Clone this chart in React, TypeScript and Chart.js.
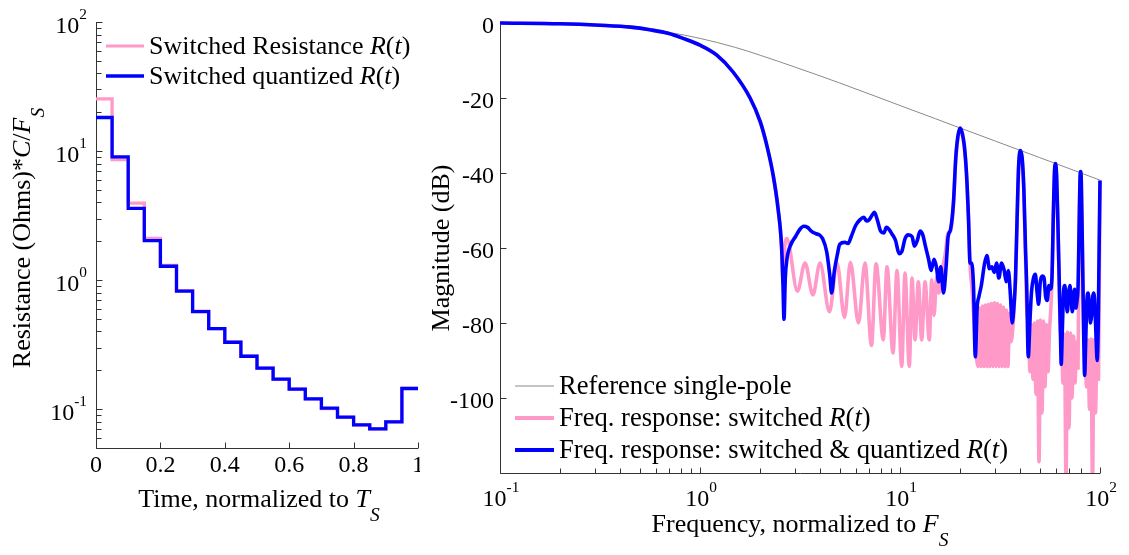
import React, { useEffect, useRef } from "react";
import { Chart, registerables } from "chart.js";

Chart.register(...registerables);

// ---------------- Left panel data ----------------
const timeEdges = [0, 0.05, 0.1, 0.15, 0.2, 0.25, 0.3, 0.35, 0.4, 0.45, 0.5, 0.55, 0.6, 0.65, 0.7, 0.75, 0.8, 0.85, 0.9, 0.95, 1];
const switchedResistance = [25.4, 8.6, 3.95, 2.1, 1.3, 0.83, 0.575, 0.42, 0.33, 0.257, 0.208, 0.17, 0.143, 0.12, 0.101, 0.0865, 0.0755, 0.0703, 0.08, 0.145];
const quantizedResistance = [18.2, 9.0, 3.6, 2.02, 1.28, 0.82, 0.57, 0.42, 0.33, 0.257, 0.208, 0.171, 0.143, 0.12, 0.102, 0.0867, 0.0756, 0.0704, 0.0797, 0.1445];
const timeTicks = [0, 0.2, 0.4, 0.6, 0.8, 1];
const timeTickLabels = ["0", "0.2", "0.4", "0.6", "0.8", "1"];
const resistanceTicks = [0.1, 1, 10, 100];
const resistanceTickExps = ["-1", "0", "1", "2"];

// ---------------- Right panel data ----------------
const freqTicks = [0.1, 1, 10, 100];
const freqTickExps = ["-1", "0", "1", "2"];
const magTicks = [0, -20, -40, -60, -80, -100];
const magTickLabels = ["0", "-20", "-40", "-60", "-80", "-100"];

const refFreq = [0.1, 0.2, 0.3, 0.5, 0.7, 1, 1.5, 2, 3, 5, 7, 10, 15, 20, 30, 50, 70, 100];
const refDb = [-0.1, -0.3, -0.6, -1.4, -2.5, -4.1, -6.5, -8.6, -11.8, -16, -18.9, -22, -25.5, -28, -31.5, -35.9, -38.8, -41.9];

// common low-frequency roll-off (both responses coincide here)
const rolloffFreq = [0.1, 0.2, 0.316, 0.45, 0.562, 0.7, 0.822, 1.0, 1.21, 1.46, 1.78, 2.0, 2.155, 2.32, 2.455, 2.56];
const rolloffDb = [0, -0.2, -0.6, -1.1, -1.8, -2.8, -4.1, -5.9, -8.5, -13, -20, -26.3, -32.5, -40.5, -49.4, -60];

const quantFreq = [
  2.6, 2.63, 2.67, 2.72, 2.85, 3.0, 3.16, 3.3, 3.45, 3.6,
  3.8, 3.95, 4.1, 4.3, 4.45, 4.55, 4.7, 4.85, 5.0, 5.3,
  5.5, 5.7, 6.0, 6.3, 6.6, 6.8, 7.0, 7.3, 7.45, 7.7,
  8.0, 8.3, 8.55, 8.8, 9.1, 9.5, 9.9, 10.2, 10.6, 11.0,
  11.5, 11.8, 12.2, 12.6, 13.0, 13.4, 13.9, 14.3, 14.8, 15.2,
  15.6, 16.0, 16.5, 17.0, 17.4, 17.9, 18.5, 19.0, 19.5, 20.0,
  20.5, 21.0, 21.5, 22.0, 22.4, 22.8, 23.3, 23.8, 24.3, 24.8,
  25.5, 26.5, 27.2, 28.0, 28.8, 29.6, 30.4, 31.2, 32.2, 33.2,
  34.0, 34.8, 35.6, 36.4, 37.2, 37.8, 38.5, 39.2, 40.0, 40.8,
  41.6, 42.4, 43.0, 43.8, 44.6, 45.4, 46.5, 47.5, 48.5, 49.3,
  50.3, 51.5, 52.5, 53.5, 54.5, 55.5, 56.5, 57.5, 58.5, 59.3,
  60.0, 60.7, 61.5, 62.5, 63.5, 64.0, 64.8, 65.7, 66.7, 67.7,
  68.7, 69.7, 70.7, 71.7, 72.7, 73.7, 74.7, 75.7, 76.7, 77.7,
  78.6, 79.4, 80.0, 80.6, 81.4, 82.2, 83.0, 83.8, 84.8, 86.0,
  87.2, 88.4, 89.6, 90.8, 92.0, 93.2, 94.4, 95.6, 96.8, 98.0,
  99.0, 100,
];
const quantDb = [
  -70, -79, -68, -63, -59, -57, -55, -54.2, -54.5, -55.5,
  -56.2, -56.5, -57.5, -61, -67, -72, -66, -62, -59, -58.5,
  -58.8, -57, -54, -52.5, -51.8, -52.8, -52.5, -51, -50.5, -52.5,
  -55.5, -56, -54.5, -55, -56.2, -58, -61.5, -61, -57.5, -56.5,
  -57, -59.5, -58, -55.5, -56.5, -59.5, -63, -66, -63, -65,
  -69, -65, -72, -65, -57, -55, -48, -36, -30, -28,
  -29.5, -33, -40, -52, -64, -64, -70, -89, -76, -73,
  -70, -64, -62, -65.5, -65, -66.5, -64, -68, -64, -66,
  -69, -66, -72, -80, -75, -68, -52, -38, -34, -36,
  -44, -60, -70, -89, -80, -72, -68, -67, -72, -75,
  -69, -67.5, -68, -73, -74, -70, -71, -68, -50, -39,
  -37.5, -41, -52, -68, -84, -91, -82, -72, -70, -74,
  -77, -72, -70, -73, -77, -74, -71, -76, -74, -70,
  -55, -42, -39.6, -42, -55, -70, -85, -94, -85, -74,
  -72, -75, -80, -78, -73, -72, -76, -84, -90, -80,
  -60, -42,
];

const switchedFreq = [
  2.6, 2.65, 2.72,
  3.07, 3.35, 3.67, 3.98, 4.44, 4.84, 5.28, 5.65, 6.20, 6.68,
  7.20, 7.59, 8.25, 8.61, 9.23, 9.66, 10.2, 10.59, 11.13, 11.48,
  11.89, 12.35, 12.84, 13.34, 14.01, 14.41, 14.79, 15.26, 15.67, 16.22,
  16.79, 17.38, 17.9, 18.5, 19.0, 19.5, 20.0, 20.5, 21.0, 21.5,
  22.0, 22.4, 23.0, 23.8, 24.55, 24.97, 25.41, 25.85, 26.30, 26.76,
  27.23, 27.70, 28.18, 28.68, 29.17, 29.68, 30.20, 30.73, 31.26, 31.81,
  32.36, 32.92, 33.50, 34.08, 34.67, 35.28, 36.0, 37.2, 37.8, 38.5,
  39.2, 40.0, 40.8, 41.6, 42.4, 43.0, 43.90, 44.67, 45.45, 46.24,
  47.04, 47.86, 48.70, 49.55, 50.41, 51.29, 52.18, 53.09, 54.01, 54.95,
  55.91, 56.8, 57.5, 58.5, 59.3, 60.0, 60.7, 61.5, 62.5, 63.3,
  64.19, 65.31, 66.45, 67.61, 68.79, 69.98, 71.21, 72.44, 73.70, 74.99,
  76.30, 77.62, 78.6, 79.4, 80.0, 80.6, 81.4, 82.2, 83.2, 84.14,
  85.60, 87.10, 88.62, 90.16, 91.73, 93.33, 94.97, 96.61, 98.29, 99.2,
  100,
];
const switchedDb = [
  -69, -60, -57.5,
  -71.5, -64, -72.5, -64, -77, -64, -78.5, -63.8, -80, -64,
  -86, -64.2, -84.5, -65, -88, -66, -91.6, -66.7, -91.6, -68,
  -84.5, -69, -84.5, -69, -84.5, -68.5, -78, -67.6, -72, -66,
  -62, -56, -55.5, -48.5, -36.5, -30.5, -28.3, -29.8, -33.5, -40.5,
  -52, -64.5, -72, -85, -91.6, -76, -91.6, -75.5, -91.6, -75.2,
  -91.6, -75, -91.6, -74.8, -91.6, -74.6, -91.6, -74.8, -91.6, -75.2,
  -91.6, -75.8, -91.6, -76.6, -91.6, -77.5, -85, -76, -69, -53,
  -38.5, -34.3, -36.5, -45, -62, -76, -81, -93, -80.5, -95,
  -80, -99, -79.5, -117, -79.2, -104, -79.5, -97, -80.5, -93,
  -82, -76, -69, -51, -39.5, -37.8, -41.5, -53, -70, -82,
  -84, -96, -83, -122, -82.5, -108, -82.7, -100, -83.5, -96,
  -85, -92, -56, -42.5, -39.9, -42.5, -56, -72, -84, -85,
  -97, -84.5, -103, -84.3, -123, -84.5, -104, -85, -95, -70,
  -42,
];

// ---------------- styling ----------------
const SERIF = '"Liberation Serif", "Times New Roman", serif';
const AXIS = "#333333";
const PINK = "#ff99c8";
const BLUE = "#0000ff";
const GREY = "#8a8a8a";
const TICK_FS = 24;
const LABEL_FS = 26;
const RLEG_FS = 26.6;

type Run = { t: string; it?: boolean; sub?: boolean; sup?: boolean };

function runFont(r: Run, size: number) {
  const s = r.sub ? size * 0.75 : r.sup ? size * 0.64 : size;
  return `${r.it ? "italic " : ""}${s}px ${SERIF}`;
}
function runsWidth(ctx: CanvasRenderingContext2D, runs: Run[], size: number) {
  let w = 0;
  for (const r of runs) {
    ctx.font = runFont(r, size);
    w += ctx.measureText(r.t).width;
  }
  return w;
}
function drawRuns(ctx: CanvasRenderingContext2D, runs: Run[], x: number, y: number, size: number, align: string) {
  const w = runsWidth(ctx, runs, size);
  let cx = align === "left" ? x : align === "center" ? x - w / 2 : x - w;
  ctx.textAlign = "left";
  ctx.textBaseline = "middle";
  ctx.fillStyle = "#000";
  for (const r of runs) {
    ctx.font = runFont(r, size);
    const dy = r.sub ? size * 0.6 : r.sup ? -size * 0.5 : 0;
    ctx.fillText(r.t, cx, y + dy);
    cx += ctx.measureText(r.t).width;
  }
}
function drawRotated(ctx: CanvasRenderingContext2D, runs: Run[], x: number, y: number, size: number) {
  ctx.save();
  ctx.translate(x, y);
  ctx.rotate(-Math.PI / 2);
  drawRuns(ctx, runs, 0, 0, size, "center");
  ctx.restore();
}
function legendRow(ctx: CanvasRenderingContext2D, x0: number, x1: number, y: number, color: string, width: number, runs: Run[], size: number) {
  ctx.save();
  ctx.strokeStyle = color;
  ctx.lineWidth = width;
  ctx.beginPath();
  ctx.moveTo(x0, y);
  ctx.lineTo(x1, y);
  ctx.stroke();
  ctx.restore();
  drawRuns(ctx, runs, x1 + 5, y + 1, size, "left");
}

const leftDecor = {
  id: "leftDecor",
  beforeDatasetsDraw(chart: any) {
    const { ctx, chartArea: ca, scales } = chart;
    const xs = scales.x;
    const ys = scales.y;
    ctx.save();
    ctx.strokeStyle = AXIS;
    ctx.lineWidth = 1;
    const L = Math.floor(ca.left) + 0.5;
    const B = Math.floor(ca.bottom) + 0.5;
    ctx.beginPath();
    ctx.moveTo(L, ca.top);
    ctx.lineTo(L, B);
    ctx.lineTo(ca.right, B);
    for (const t of timeTicks) {
      const px = Math.round(xs.getPixelForValue(t)) + 0.5;
      ctx.moveTo(px, B);
      ctx.lineTo(px, B - 6);
    }
    for (let e = -2; e <= 2; e++) {
      for (let k = 1; k <= 9; k++) {
        const v = k * Math.pow(10, e);
        if (v < ys.min * 0.999 || v > ys.max * 1.001) continue;
        const py = Math.round(ys.getPixelForValue(v)) + 0.5;
        ctx.moveTo(L, py);
        ctx.lineTo(L + (k === 1 ? 6 : 5), py);
      }
    }
    ctx.stroke();
    ctx.restore();
  },
  afterDraw(chart: any) {
    const { ctx, chartArea: ca, scales } = chart;
    const xs = scales.x;
    const ys = scales.y;
    timeTicks.forEach((t, i) => {
      drawRuns(ctx, [{ t: timeTickLabels[i] }], xs.getPixelForValue(t), ca.bottom + 18, TICK_FS, "center");
    });
    resistanceTicks.forEach((v, i) => {
      drawRuns(ctx, [{ t: "10" }, { t: resistanceTickExps[i], sup: true }], ca.left - 9, ys.getPixelForValue(v) + 5, TICK_FS, "right");
    });
    drawRuns(ctx, [{ t: "Time, normalized to " }, { t: "T", it: true }, { t: "S", it: true, sub: true }], (ca.left + ca.right) / 2 + 2, ca.bottom + 52, LABEL_FS, "center");
    drawRotated(ctx, [{ t: "Resistance (Ohms)*" }, { t: "C", it: true }, { t: "/" }, { t: "F", it: true }, { t: "S", it: true, sub: true }], ca.left - 73, 238, LABEL_FS);
    legendRow(ctx, ca.left + 10, ca.left + 48, 46, PINK, 3, [{ t: "Switched Resistance " }, { t: "R", it: true }, { t: "(" }, { t: "t", it: true }, { t: ")" }], LABEL_FS);
    legendRow(ctx, ca.left + 10, ca.left + 48, 76, BLUE, 3.5, [{ t: "Switched quantized " }, { t: "R", it: true }, { t: "(" }, { t: "t", it: true }, { t: ")" }], LABEL_FS);
  },
};

const rightDecor = {
  id: "rightDecor",
  beforeDatasetsDraw(chart: any) {
    const { ctx, chartArea: ca, scales } = chart;
    const xs = scales.x;
    const ys = scales.y;
    ctx.save();
    ctx.strokeStyle = AXIS;
    ctx.lineWidth = 1;
    const L = Math.floor(ca.left) + 0.5;
    const B = Math.floor(ca.bottom) + 0.5;
    ctx.beginPath();
    ctx.moveTo(L, ca.top);
    ctx.lineTo(L, B);
    ctx.lineTo(ca.right, B);
    for (let e = -1; e <= 2; e++) {
      for (let k = 1; k <= 9; k++) {
        const v = k * Math.pow(10, e);
        if (v > 100.01) continue;
        const px = Math.round(xs.getPixelForValue(v)) + 0.5;
        ctx.moveTo(px, B);
        ctx.lineTo(px, B - (k === 1 ? 6 : 5));
      }
    }
    for (const m of magTicks) {
      const py = Math.round(ys.getPixelForValue(m)) + 0.5;
      ctx.moveTo(L, py);
      ctx.lineTo(L + 6, py);
    }
    ctx.stroke();
    ctx.restore();
  },
  afterDraw(chart: any) {
    const { ctx, chartArea: ca, scales } = chart;
    const xs = scales.x;
    const ys = scales.y;
    magTicks.forEach((m, i) => {
      drawRuns(ctx, [{ t: magTickLabels[i] }], ca.left - 6, ys.getPixelForValue(m) + 4, TICK_FS, "right");
    });
    freqTicks.forEach((f, i) => {
      drawRuns(ctx, [{ t: "10" }, { t: freqTickExps[i], sup: true }], xs.getPixelForValue(f) + 1, ca.bottom + 27, TICK_FS, "center");
    });
    drawRuns(ctx, [{ t: "Frequency, normalized to " }, { t: "F", it: true }, { t: "S", it: true, sub: true }], (ca.left + ca.right) / 2, ca.bottom + 52, LABEL_FS, "center");
    drawRotated(ctx, [{ t: "Magnitude (dB)" }], ca.left - 58, (ca.top + ca.bottom) / 2, LABEL_FS);
    const x0 = ca.left + 15;
    const x1 = ca.left + 54;
    legendRow(ctx, x0, x1, 386, GREY, 1, [{ t: "Reference single-pole" }], RLEG_FS);
    legendRow(ctx, x0, x1, 418, PINK, 3.8, [{ t: "Freq. response: switched " }, { t: "R", it: true }, { t: "(" }, { t: "t", it: true }, { t: ")" }], RLEG_FS);
    legendRow(ctx, x0, x1, 450, BLUE, 3.8, [{ t: "Freq. response: switched & quantized " }, { t: "R", it: true }, { t: "(" }, { t: "t", it: true }, { t: ")" }], RLEG_FS);
  },
};

function stepPoints(values: number[]) {
  return timeEdges.map((t, i) => ({ x: t, y: values[Math.min(i, values.length - 1)] }));
}
function pairPoints(fs: number[], ds: number[]) {
  return fs.map((f, i) => ({ x: f, y: ds[i] }));
}

const LEFT_W = 420;
const RIGHT_X = 420;
const RIGHT_W = 1129 - 420;
const H = 555;

export default function App() {
  const leftRef = useRef<HTMLCanvasElement | null>(null);
  const rightRef = useRef<HTMLCanvasElement | null>(null);

  useEffect(() => {
    const common = {
      responsive: false,
      animation: false as const,
      devicePixelRatio: 1,
      events: [] as any[],
      plugins: { legend: { display: false }, tooltip: { enabled: false } },
    };
    const left = new Chart(leftRef.current as HTMLCanvasElement, {
      type: "line",
      data: {
        datasets: [
          { label: "Switched quantized R(t)", data: stepPoints(quantizedResistance), stepped: "before", borderColor: BLUE, borderWidth: 3.3, pointRadius: 0, order: 0, borderJoinStyle: "miter" },
          { label: "Switched Resistance R(t)", data: stepPoints(switchedResistance), stepped: "before", borderColor: PINK, borderWidth: 3.3, pointRadius: 0, order: 1, borderJoinStyle: "miter" },
        ],
      },
      options: {
        ...common,
        layout: { padding: { left: 96, right: LEFT_W - 418, top: 22, bottom: H - 448 } },
        scales: {
          x: { type: "linear", min: 0, max: 1, display: false },
          y: { type: "logarithmic", min: 0.05, max: 100, display: false },
        },
      } as any,
      plugins: [leftDecor],
    } as any);

    const clip = { left: 3, right: 3, top: 3, bottom: 0 };
    const right = new Chart(rightRef.current as HTMLCanvasElement, {
      type: "line",
      data: {
        datasets: [
          { label: "Freq. response: switched & quantized R(t)", data: pairPoints(rolloffFreq.concat(quantFreq), rolloffDb.concat(quantDb)), borderColor: BLUE, borderWidth: 3.6, pointRadius: 0, cubicInterpolationMode: "monotone", order: 0, clip },
          { label: "Freq. response: switched R(t)", data: pairPoints(rolloffFreq.concat(switchedFreq), rolloffDb.concat(switchedDb)), borderColor: PINK, borderWidth: 3.6, pointRadius: 0, cubicInterpolationMode: "monotone", order: 1, clip },
          { label: "Reference single-pole", data: pairPoints(refFreq, refDb), borderColor: GREY, borderWidth: 1, pointRadius: 0, cubicInterpolationMode: "monotone", order: 2, clip },
        ],
      },
      options: {
        ...common,
        layout: { padding: { left: 500 - RIGHT_X, right: RIGHT_X + RIGHT_W - 1100, top: 23, bottom: H - 473 } },
        scales: {
          x: { type: "logarithmic", min: 0.1, max: 100, display: false },
          y: { type: "linear", min: -120, max: 0, display: false },
        },
      } as any,
      plugins: [rightDecor],
    } as any);

    return () => {
      left.destroy();
      right.destroy();
    };
  }, []);

  return (
    <div style={{ position: "absolute", left: 0, top: 0, width: 1129, height: H, background: "#fff", overflow: "hidden" }}>
      <canvas ref={leftRef} width={LEFT_W} height={H} style={{ position: "absolute", left: 0, top: 0, width: LEFT_W, height: H }} />
      <canvas ref={rightRef} width={RIGHT_W} height={H} style={{ position: "absolute", left: RIGHT_X, top: 0, width: RIGHT_W, height: H }} />
    </div>
  );
}
